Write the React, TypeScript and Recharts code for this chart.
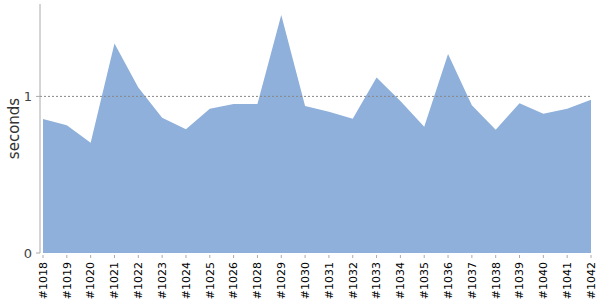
import React from 'react';
import { AreaChart, Area, XAxis, YAxis, ReferenceLine, Label } from 'recharts';

const builds = ['#1018','#1019','#1020','#1021','#1022','#1023','#1024','#1025','#1026','#1028','#1029','#1030','#1031','#1032','#1033','#1034','#1035','#1036','#1037','#1038','#1039','#1040','#1041','#1042'];
const seconds = [0.855,0.815,0.704,1.338,1.057,0.864,0.791,0.921,0.951,0.951,1.519,0.938,0.902,0.857,1.121,0.97,0.806,1.27,0.944,0.787,0.957,0.889,0.921,0.978];
const yTicks = [0, 1];

const data = builds.map((b, i) => ({ build: b, seconds: seconds[i] }));

const XTick = (props: any) => {
  const { x, y, payload } = props;
  return (
    <g>
      <line x1={x} x2={x} y1={y + 2} y2={y + 5} stroke="#aaa" />
      <text
        x={x}
        y={y + 9}
        transform={`rotate(-90, ${x}, ${y + 9})`}
        textAnchor="end"
        dy="0.35em"
        fontSize={11}
        fontFamily="DejaVu Sans"
        fill="#000"
      >
        {payload.value}
      </text>
    </g>
  );
};

const YLabel = (props: any) => {
  const vb = props.viewBox || {};
  const cy = (vb.y ?? 4) + (vb.height ?? 249) / 2;
  const cx = 14;
  return (
    <text
      x={cx}
      y={cy}
      transform={`rotate(-90, ${cx}, ${cy})`}
      textAnchor="middle"
      dy="0.35em"
      fontSize={15}
      fontFamily="DejaVu Sans"
      fill="#333"
    >
      seconds
    </text>
  );
};

export default function App() {
  return (
    <div style={{ position: 'absolute', left: 0, top: 0 }}>
      <AreaChart width={600} height={300} data={data} margin={{ top: 4, right: 9, bottom: 0, left: 0 }}>
        <XAxis
          dataKey="build"
          axisLine={false}
          tickLine={false}
          tickSize={0}
          tickMargin={0}
          interval={0}
          height={47}
          padding={{ left: 3, right: 0 }}
          tick={<XTick />}
        />
        <YAxis
          domain={[0, 1.59]}
          ticks={yTicks}
          width={40}
          axisLine={{ stroke: '#aaa' }}
          tickLine={{ stroke: '#aaa' }}
          tickSize={4}
          tickMargin={4}
          tick={{ fontSize: 13, fontFamily: 'DejaVu Sans', fill: '#444' }}
        >
          <Label content={<YLabel />} />
        </YAxis>
        <Area
          type="linear"
          dataKey="seconds"
          stroke="none"
          fill="#8eb0da"
          fillOpacity={1}
          isAnimationActive={false}
        />
        <ReferenceLine y={1} stroke="#888" strokeDasharray="2 2" strokeWidth={1} />
      </AreaChart>
    </div>
  );
}
